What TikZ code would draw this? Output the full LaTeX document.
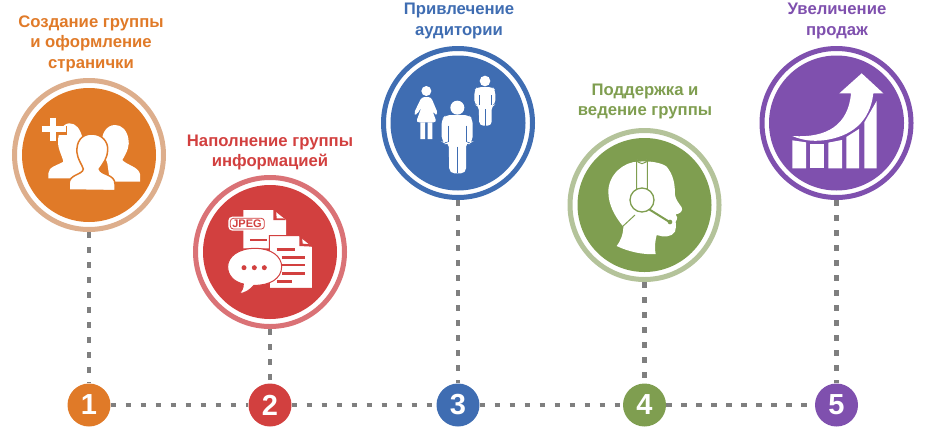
\documentclass[tikz,border=0pt]{standalone}
\usepackage{fontspec}
\setmainfont{Liberation Sans}
\definecolor{orA}{HTML}{E07A28}\definecolor{orR}{HTML}{DDAE8C}
\definecolor{reA}{HTML}{D2403F}\definecolor{reR}{HTML}{DA7276}
\definecolor{blA}{HTML}{3F6DB2}\definecolor{blR}{HTML}{3F6DB2}
\definecolor{grA}{HTML}{7F9E50}\definecolor{grR}{HTML}{B4C39A}
\definecolor{puA}{HTML}{7F50AE}\definecolor{puR}{HTML}{7F50AE}
\definecolor{dotc}{HTML}{7F7F7F}
\tikzset{
  bigring/.style={circle,draw=#1,fill=white,line width=5pt,minimum size=149pt,inner sep=0pt},
  numdisc/.style={circle,fill=#1,text=white,minimum size=43pt,inner sep=0pt,font=\fontsize{29}{29}\selectfont\bfseries},
  caption/.style={align=center,text=#1,font=\fontsize{16.7}{20.5}\selectfont\bfseries,inner sep=0pt},
  dots/.style={draw=dotc,line width=4.2pt,dash pattern=on 5.5pt off 9.5pt},
  zoomed/.style={x=0.33333pt,y=-0.33333pt},
}
\begin{document}
\begin{tikzpicture}[x=1pt,y=-1pt]
\useasboundingbox (0,0) rectangle (925,426);
% big circles
\node[bigring=orR] (c1) at (89,155) {};
\node[bigring=reR] (c2) at (270,252) {};
\node[bigring=blR] (c3) at (458,123) {};
\node[bigring=grR] (c4) at (644.5,205) {};
\node[bigring=puR] (c5) at (836.5,123) {};
\fill[orA] (c1) circle[radius=67];
\fill[reA] (c2) circle[radius=67];
\fill[blA] (c3) circle[radius=67.5];
\fill[grA] (c4) circle[radius=67];
\fill[puA] (c5) circle[radius=67.5];
% number discs
\node[numdisc=orA] (n1) at (89,405) {1};
\node[numdisc=reA] (n2) at (270,405) {2};
\node[numdisc=blA] (n3) at (458,405) {3};
\node[numdisc=grA] (n4) at (644.5,405) {4};
\node[numdisc=puA] (n5) at (836.5,405) {5};
% connectors
\draw[dots] (c1) -- (n1);
\draw[dots] (c2) -- (n2);
\draw[dots] (c3) -- (n3);
\draw[dots] (c4) -- (n4);
\draw[dots] (c5) -- (n5);
\draw[dots] (n1) -- (n2);
\draw[dots] (n2) -- (n3);
\draw[dots] (n3) -- (n4);
\draw[dots] (n4) -- (n5);
% captions
\node[caption=orA] (t1) at (91,43.5) {Создание группы\\и оформление\\странички};
\node[caption=reA] (t2) at (270,152.5) {Наполнение группы\\информацией};
\node[caption=blA] (t3) at (459,21) {Привлечение\\аудитории};
\node[caption=grA] (t4) at (645,101.5) {Поддержка и\\ведение группы};
\node[caption=puA] (t5) at (837,21) {Увеличение\\продаж};
% icon 1
\begin{scope}[shift={(0,70)},zoomed]
\fill[white] (345,165) .. controls (320,165) and (303,190) .. (305,225) .. controls (307,250) and (318,265) .. (322,280) -- (330,335) -- (420,335) -- (420,312) .. controls (415,290) and (380,285) .. (367,270) .. controls (382,245) and (390,225) .. (385,205) .. controls (380,180) and (365,165) .. (345,165) -- cycle;
\fill[white] (208,160) .. controls (185,160) and (170,195) .. (175,228) .. controls (178,245) and (188,262) .. (190,275) .. controls (175,285) and (145,290) .. (145,310) -- (145,325) -- (215,325) -- (260,300) -- (248,205) .. controls (240,175) and (228,160) .. (208,160) -- cycle;
\fill[white,draw=orA,line width=1.5pt] (275,192) .. controls (245,192) and (228,215) .. (231,248) .. controls (233,268) and (245,282) .. (250,297) .. controls (248,315) and (207,312) .. (207,342) -- (207,360) -- (345,362) -- (345,342) .. controls (345,312) and (302,315) .. (298,297) .. controls (310,280) and (322,265) .. (323,240) .. controls (325,215) and (305,192) .. (275,192) -- cycle;
\draw[orA,line width=9pt] (122,180) -- (201,180) (160,140) -- (160,219);
\draw[white,line width=6pt] (125,178) -- (197,178) (160,143) -- (160,213);
\end{scope}
% icon 2
\begin{scope}[shift={(180,165)},zoomed]
\fill[white] (190,135) -- (280,135) -- (318,165) -- (318,250) -- (190,250) -- cycle;
\fill[reA] (280,135) -- (280,165) -- (318,165) -- (310,160) -- (290,160) -- (288,135) -- cycle;
\draw[reA,line width=2.6pt] (210,225) -- (262,225);
\fill[white,rounded corners=4pt] (145,155) rectangle (258,197);
\draw[reA,line width=0.8pt,rounded corners=3pt] (151,160) rectangle (253,192);
\node[text=reA,inner sep=0pt,font=\fontsize{11}{11}\selectfont\bfseries] (jpeg) at (201,176) {JPEG};
\fill[white,draw=reA,line width=1pt] (268,212) -- (358,212) -- (398,245) -- (398,370) -- (268,370) -- cycle;
\fill[reA] (358,212) -- (358,243) -- (398,245) -- (390,238) -- (368,236) -- (366,212) -- cycle;
\draw[reA,line width=2.8pt] (290,253) -- (345,253) (305,278) -- (375,278) (305,300) -- (375,300) (305,325) -- (375,325) (290,349) -- (335,349);
\fill[white,draw=reA,line width=1pt] (225,250) .. controls (175,250) and (143,275) .. (143,305) .. controls (143,330) and (160,350) .. (190,357) .. controls (190,370) and (185,378) .. (178,386) .. controls (195,385) and (210,375) .. (222,361) .. controls (270,362) and (305,340) .. (305,305) .. controls (305,275) and (275,250) .. (225,250) -- cycle;
\fill[reA] (192,308) circle[radius=7.5] (223,308) circle[radius=7.5] (253,308) circle[radius=7.5];
\end{scope}
% icon 3
\begin{scope}[shift={(370,35)},zoomed]
\fill[white] (262,218) circle[radius=21];
\fill[white,rounded corners=5pt] (228,240) -- (296,240) -- (308,252) -- (308,320) -- (298,326) -- (288,320) -- (288,415) -- (238,415) -- (236,320) -- (226,326) -- (215,320) -- (215,252) -- cycle;
\draw[blA,line width=0.8pt] (236,272) -- (236,322) (288,272) -- (288,322);
\draw[blA,line width=1.2pt] (262,335) -- (262,415);
\fill[white] (345,138) circle[radius=16];
\fill[white,rounded corners=4pt] (322,156) -- (368,156) -- (376,166) -- (376,208) -- (365,212) -- (365,272) -- (328,272) -- (326,212) -- (313,208) -- (313,166) -- cycle;
\draw[blA,line width=0.8pt] (327,180) -- (327,210) (364,180) -- (364,210) (345,222) -- (345,272);
\fill[white] (169,168) circle[radius=15];
\fill[white,rounded corners=3pt] (155,186) -- (183,186) -- (204,236) -- (194,240) -- (183,215) -- (200,262) -- (138,262) -- (155,215) -- (140,240) -- (131,236) -- cycle;
\fill[white] (151,262) rectangle (165,312) (173,262) rectangle (187,312);
\end{scope}
% icon 4
\begin{scope}[shift={(555,120)},zoomed]
\fill[white] (250,125) .. controls (205,125) and (160,165) .. (160,215) .. controls (160,255) and (180,290) .. (205,320) .. controls (205,345) and (195,365) .. (185,378) .. controls (220,395) and (265,405) .. (302,402) .. controls (298,385) and (300,365) .. (305,345) .. controls (325,352) and (350,352) .. (360,335) .. controls (365,325) and (362,315) .. (362,305) .. controls (368,295) and (368,290) .. (362,283) .. controls (375,282) and (385,272) .. (380,262) .. controls (370,248) and (362,238) .. (360,225) .. controls (360,190) and (355,165) .. (335,140) .. controls (320,128) and (285,122) .. (250,125) -- cycle;
\draw[grA,line width=1pt] (200,322) -- (240,285);
\fill[white,draw=grA,line width=1pt] (245,215) -- (245,115) arc[start angle=180,end angle=0,radius=16] -- (277,215);
\draw[grA,line width=2pt] (276,264) -- (342,305);
\fill[grA] (345,306) circle[radius=7];
\fill[white,draw=grA,line width=1.3pt] (261,240) circle[radius=36];
\end{scope}
% icon 5
\begin{scope}[shift={(745,35)},zoomed]
\fill[white] (142,316) -- (183,322) -- (183,400) -- (142,400) -- cycle;
\fill[white] (196,326) -- (237,326) -- (237,400) -- (196,400) -- cycle;
\fill[white] (250,323) -- (291,315) -- (291,400) -- (250,400) -- cycle;
\fill[white] (304,306) -- (342,282) -- (342,400) -- (304,400) -- cycle;
\fill[white] (358,262) -- (395,198) -- (395,400) -- (358,400) -- cycle;
\fill[white] (142,303) .. controls (245,310) and (310,270) .. (318,175) -- (283,175) -- (350,115) -- (415,175) -- (385,175) .. controls (375,260) and (320,305) .. (235,316) .. controls (200,320) and (170,315) .. (142,303) -- cycle;
\end{scope}
\end{tikzpicture}
\end{document}
